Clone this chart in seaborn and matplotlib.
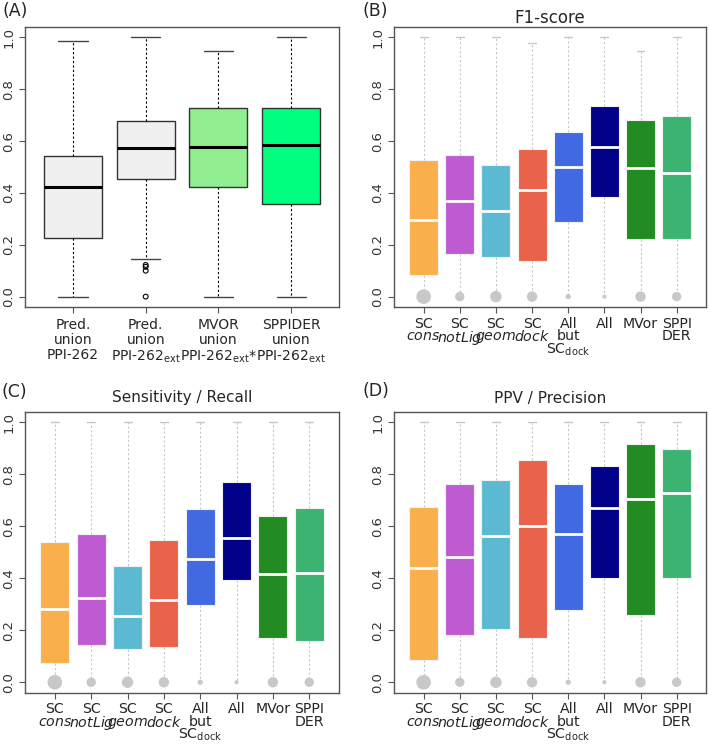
import matplotlib
matplotlib.use("Agg")
import matplotlib.pyplot as plt
import seaborn as sns
import pandas as pd

# ---- Panel A: five-number summaries ----
labels_a = ["Pred.\nunion\nPPI-262",
            "Pred.\nunion\nPPI-262$_{\\mathrm{ext}}$",
            "MVOR\nunion\nPPI-262$_{\\mathrm{ext}}$*",
            "SPPIDER\nunion\nPPI-262$_{\\mathrm{ext}}$"]
a_min = [0.0, 0.145, 0.0, 0.0]
a_q1 = [0.227, 0.454, 0.422, 0.358]
a_med = [0.421, 0.573, 0.578, 0.583]
a_q3 = [0.541, 0.678, 0.726, 0.728]
a_max = [0.987, 1.0, 0.949, 1.0]
a_outliers = [0.0, 0.10, 0.115, 0.122]   # outliers of the 2nd box
colors_a = ["#F0F0F0", "#F0F0F0", "#90EE90", "#00FF7F"]

# ---- Panels B-D: method categories ----
labels_m = ["SC\n$\\mathit{cons}$", "SC\n$\\mathit{notLig}$", "SC\n$\\mathit{geom}$",
            "SC\n$\\mathit{dock}$", "All\nbut\nSC$_{\\mathrm{dock}}$", "All",
            "MVor", "SPPI\nDER"]
colors_m = ["#F9B04C", "#BF5BD2", "#5BBAD2", "#E9634A",
            "#4169E1", "#000088", "#228B22", "#3CB371"]
# relative amount of zero scores (dot diameter, px)
zero_dots = [14, 9, 11, 10, 5, 4, 10, 9]

# F1-score
b_min = [0, 0, 0, 0, 0, 0, 0, 0]
b_q1 = [0.085, 0.165, 0.153, 0.136, 0.287, 0.386, 0.224, 0.224]
b_med = [0.295, 0.367, 0.332, 0.410, 0.500, 0.578, 0.497, 0.478]
b_q3 = [0.527, 0.547, 0.508, 0.568, 0.635, 0.735, 0.683, 0.697]
b_max = [1.0, 1.0, 1.0, 0.978, 1.0, 1.0, 0.949, 1.0]

# Sensitivity / Recall
c_min = [0, 0, 0, 0, 0, 0, 0, 0]
c_q1 = [0.073, 0.144, 0.127, 0.136, 0.296, 0.392, 0.169, 0.160]
c_med = [0.281, 0.322, 0.253, 0.317, 0.473, 0.554, 0.418, 0.421]
c_q3 = [0.540, 0.571, 0.447, 0.545, 0.667, 0.768, 0.641, 0.671]
c_max = [1.0, 1.0, 1.0, 1.0, 1.0, 1.0, 1.0, 1.0]

# PPV / Precision
d_min = [0, 0, 0, 0, 0, 0, 0, 0]
d_q1 = [0.085, 0.183, 0.203, 0.169, 0.278, 0.400, 0.259, 0.400]
d_med = [0.438, 0.482, 0.563, 0.600, 0.569, 0.668, 0.705, 0.726]
d_q3 = [0.673, 0.763, 0.779, 0.856, 0.764, 0.832, 0.917, 0.897]
d_max = [1.0, 1.0, 1.0, 1.0, 1.0, 1.0, 1.0, 1.0]


def summary_frame(labels, mins, q1, med, q3, maxs):
    # five values per group -> quartiles of these are exactly the summary
    rows = []
    for i, lab in enumerate(labels):
        for v in (mins[i], q1[i], med[i], q3[i], maxs[i]):
            rows.append({"group": lab, "value": v})
    return pd.DataFrame(rows)


sns.set_style("ticks")
plt.rcParams["font.family"] = ["DejaVu Sans"]
plt.rcParams["mathtext.fontset"] = "dejavusans"

fig = plt.figure(figsize=(7.09, 7.44), dpi=100)
left_col, right_col = 0.0353, 0.5557
top_row, bot_row = 0.5874, 0.0690
pos = {"A": [left_col, top_row, 0.4429, 0.3763],
       "B": [right_col, top_row, 0.4405, 0.3763],
       "C": [left_col, bot_row, 0.4429, 0.3776],
       "D": [right_col, bot_row, 0.4405, 0.3776]}


def style_axes(ax, labels, spacing, size, pad):
    for s in ax.spines.values():
        s.set_color("#555555")
        s.set_linewidth(1.0)
        s.set_visible(True)
    ax.set_ylim(-0.04, 1.04)
    ax.set_yticks([0, 0.2, 0.4, 0.6, 0.8, 1.0])
    ax.set_yticklabels(["0.0", "0.2", "0.4", "0.6", "0.8", "1.0"],
                       rotation=90, va="center", color="#333333", fontsize=9.5)
    ax.set_xticks(range(len(labels)))
    ax.set_xticklabels(labels, linespacing=spacing, fontsize=size)
    ax.tick_params(axis="y", length=4, width=0.8, color="#555555", pad=3)
    ax.tick_params(axis="x", length=4, width=0.8, color="#555555", pad=pad)
    ax.set_xlabel("")
    ax.set_ylabel("")


# ---- Panel A ----
ax = fig.add_axes(pos["A"])
df_a = summary_frame(labels_a, a_min, a_q1, a_med, a_q3, a_max)
sns.boxplot(data=df_a, x="group", y="value", hue="group", order=labels_a,
            hue_order=labels_a, palette=colors_a, saturation=1, dodge=False,
            legend=False, width=0.8, whis=(0, 100), ax=ax,
            boxprops=dict(edgecolor="#333333", linewidth=1.0),
            medianprops=dict(color="black", linewidth=2.2),
            whiskerprops=dict(color="black", linewidth=0.8, linestyle=(0, (2, 2))),
            capprops=dict(color="#444444", linewidth=1.0),
            capwidths=0.4)
ax.scatter([1] * len(a_outliers), a_outliers, s=12, facecolors="none",
           edgecolors="black", linewidths=0.8, zorder=5)
ax.set_xlim(-0.66, 3.66)
style_axes(ax, labels_a, 1.1, 10, 4)

# ---- Panels B-D ----
panels = [("B", "F1-score", (b_min, b_q1, b_med, b_q3, b_max), 2.5, 12),
          ("C", "Sensitivity / Recall", (c_min, c_q1, c_med, c_q3, c_max), 7, 11),
          ("D", "PPV / Precision", (d_min, d_q1, d_med, d_q3, d_max), 6.3, 11)]
for key, title, stats, tpad, tsize in panels:
    ax = fig.add_axes(pos[key])
    df = summary_frame(labels_m, *stats)
    sns.boxplot(data=df, x="group", y="value", hue="group", order=labels_m,
                hue_order=labels_m, palette=colors_m, saturation=1, dodge=False,
                legend=False, width=0.8, whis=(0, 100), ax=ax,
                boxprops=dict(edgecolor="#f2f2f2", linewidth=0.8),
                medianprops=dict(color="white", linewidth=2.0),
                whiskerprops=dict(color="#c8c8c8", linewidth=0.8, linestyle=(0, (2, 2))),
                capprops=dict(color="#c8c8c8", linewidth=1.0),
                capwidths=0.22)
    # lower caps sit under the zero dots in the original: hide them
    for ln in ax.lines:
        yd = list(ln.get_ydata())
        xd = list(ln.get_xdata())
        if len(yd) == 2 and yd[0] == 0 and yd[1] == 0 and xd[0] != xd[1]:
            ln.set_visible(False)
    sizes = [(d * 0.75) ** 2 for d in zero_dots]
    ax.scatter(range(len(labels_m)), [0] * len(labels_m), s=sizes,
               color="#c8c8c8", linewidths=0, zorder=10)
    ax.set_xlim(-0.82, 7.82)
    ax.set_title(title, fontsize=tsize, pad=tpad)
    style_axes(ax, labels_m, 0.85, 10.2, 3)

# panel letters
fig.text(0.003, 0.997, "(A)", fontsize=12.5, va="top", ha="left")
fig.text(0.511, 0.997, "(B)", fontsize=12.5, va="top", ha="left")
fig.text(0.002, 0.485, "(C)", fontsize=12.5, va="top", ha="left")
fig.text(0.511, 0.487, "(D)", fontsize=12.5, va="top", ha="left")

fig.savefig("out.png", dpi=100)
